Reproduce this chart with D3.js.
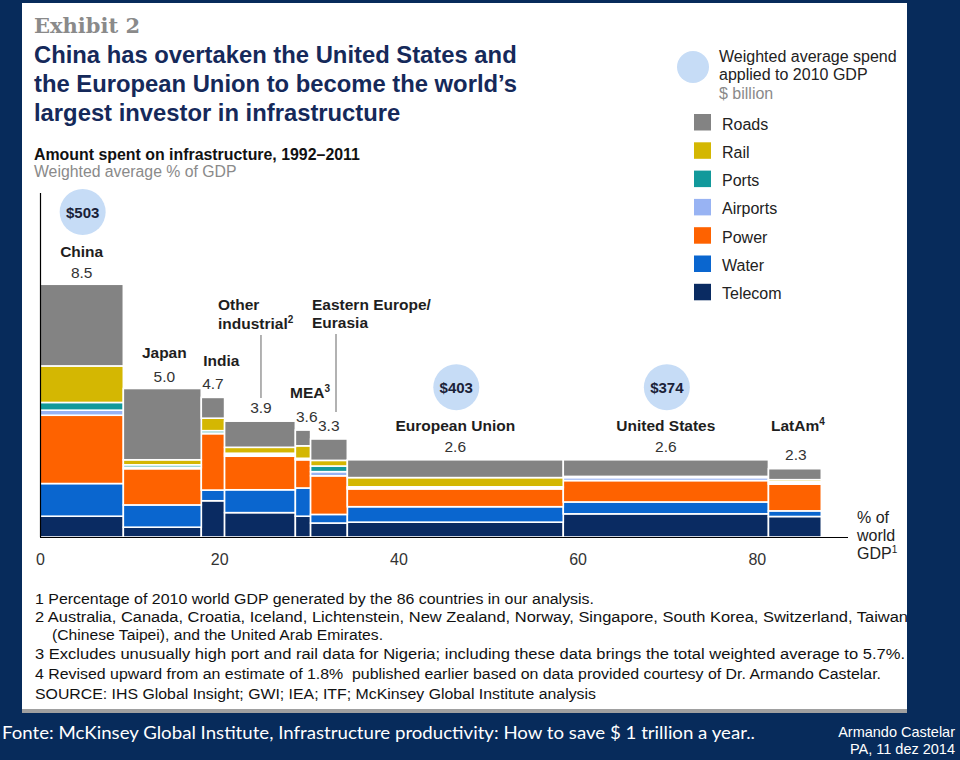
<!DOCTYPE html>
<html><head><meta charset="utf-8">
<script src="https://cdn.jsdelivr.net/npm/d3@7/dist/d3.min.js"></script>
<style>body{margin:0;background:#072b5b}svg{display:block}</style>
</head><body>
<script>
// ---- data ----
const regions = ["China","Japan","India","Other industrial","MEA","Eastern Europe/Eurasia","European Union","United States","LatAm"];
const gdpShare = [9.3, 8.7, 2.6, 7.9, 1.7, 4.1, 24.1, 22.9, 5.9];
const totals = [8.5, 5.0, 4.7, 3.9, 3.6, 3.3, 2.6, 2.6, 2.3];
const roads    = [2.75, 2.4, 0.7, 0.88, 0.53, 0.72, 0.6, 0.56, 0.37];
const rail     = [1.23, 0.17, 0.42, 0.2, 0.42, 0.19, 0.31, 0.02, 0.07];
const ports    = [0.26, 0.08, 0.08, 0.05, 0.03, 0.19, 0.03, 0.02, 0.04];
const airports = [0.17, 0.05, 0.02, 0.05, 0.02, 0.14, 0.04, 0.1, 0.04];
const power    = [2.3, 1.22, 1.9, 1.13, 0.95, 1.3, 0.6, 0.72, 0.9];
const water    = [1.1, 0.75, 0.36, 0.77, 0.95, 0.29, 0.52, 0.4, 0.19];
const telecom  = [0.7, 0.33, 1.22, 0.82, 0.7, 0.47, 0.5, 0.78, 0.69];
const spend = [503, null, null, null, null, null, 403, 374, null];
const sectors = ["Roads","Rail","Ports","Airports","Power","Water","Telecom"];
const xTicks = [0, 20, 40, 60, 80];
const footnotes = [
  "1  Percentage of 2010 world GDP generated by the 86 countries in our analysis.",
  "2  Australia, Canada, Croatia, Iceland, Lichtenstein, New Zealand, Norway, Singapore, South Korea, Switzerland, Taiwan",
  "(Chinese Taipei), and the United Arab Emirates.",
  "3  Excludes unusually high port and rail data for Nigeria; including these data brings the total weighted average to 5.7%.",
  "4  Revised upward from an estimate of 1.8%\u00a0 published earlier based on data provided courtesy of Dr. Armando Castelar.",
  "SOURCE: IHS Global Insight; GWI; IEA; ITF; McKinsey Global Institute analysis"
];

// ---- styles/layout ----
const colors = {Roads:"#838383",Rail:"#d4b702",Ports:"#12999b",Airports:"#98b3f3",Power:"#fe6200",Water:"#0a66cf",Telecom:"#0a2b62"};
const SANS = "'Liberation Sans', Arial, sans-serif";
const NARROW = "'Liberation Sans Narrow', 'Liberation Sans', Arial, sans-serif";

const svg = d3.select("body").append("svg").attr("width",960).attr("height",760);
svg.append("rect").attr("width",960).attr("height",760).attr("fill","#072b5b");
svg.append("rect").attr("x",22).attr("y",3).attr("width",885).attr("height",708).attr("fill","#fff");
svg.append("rect").attr("x",22).attr("y",709).attr("width",885).attr("height",4).attr("fill","#a0a0a0");

// titles
svg.append("text").attr("x",34).attr("y",33).text("Exhibit 2")
  .attr("font-family","'DejaVu Serif', 'Liberation Serif', serif").attr("font-weight","bold").attr("font-size",21).attr("fill","#8a8a8a");
["China has overtaken the United States and","the European Union to become the world\u2019s","largest investor in infrastructure"].forEach((t,i)=>{
  svg.append("text").attr("x",34).attr("y",63+i*29).text(t)
    .attr("font-family",SANS).attr("font-weight","bold").attr("font-size",23.8).attr("fill","#15295a");
});
svg.append("text").attr("x",34).attr("y",160).text("Amount spent on infrastructure, 1992\u20132011")
  .attr("font-family",SANS).attr("font-weight","bold").attr("font-size",15.9).attr("fill","#111");
svg.append("text").attr("x",34).attr("y",177).text("Weighted average % of GDP")
  .attr("font-family",SANS).attr("font-size",15.8).attr("fill","#8a8a8a");

// legend
svg.append("circle").attr("cx",693).attr("cy",67).attr("r",16).attr("fill","#c6dcf6");
[["Weighted average spend","#222",62],["applied to 2010 GDP","#222",80],["$ billion","#8a8a8a",99]].forEach(d=>{
  svg.append("text").attr("x",719).attr("y",d[2]).text(d[0]).attr("font-family",SANS).attr("font-size",16).attr("fill",d[1]);
});
const leg = svg.append("g");
sectors.forEach((s,i)=>{
  const y0 = 114 + i*28.3;
  leg.append("rect").attr("x",694).attr("y",y0).attr("width",17).attr("height",16.5).attr("fill",colors[s]);
  leg.append("text").attr("x",722).attr("y",y0+15.5).text(s).attr("font-family",SANS).attr("font-size",16).attr("fill","#222");
});

// scales
const x = d3.scaleLinear().domain([0,100]).range([40,936]);
const y = d3.scaleLinear().domain([0,10]).range([537,240]);

// build table
const cum = d3.cumsum(gdpShare);
const table = regions.map((r,i)=>({region:r, x0: cum[i]-gdpShare[i], x1: cum[i], total: totals[i], spend: spend[i],
  Roads:roads[i],Rail:rail[i],Ports:ports[i],Airports:airports[i],Power:power[i],Water:water[i],Telecom:telecom[i]}));
const stackKeys = ["Telecom","Water","Power","Airports","Ports","Rail","Roads"];
const series = d3.stack().keys(stackKeys)(table);

const bars = svg.append("g");
series.forEach(s=>{
  bars.selectAll(null).data(s).enter().append("rect")
    .attr("x",d=>x(d.data.x0)).attr("width",d=>x(d.data.x1)-x(d.data.x0))
    .attr("y",d=>y(d[1])).attr("height",d=>Math.max(0,y(d[0])-y(d[1])))
    .attr("fill",colors[s.key]).attr("stroke","#fff").attr("stroke-width",1.6);
});

// axes
svg.append("line").attr("x1",40.5).attr("x2",40.5).attr("y1",193).attr("y2",537).attr("stroke","#000").attr("stroke-width",1.2);
svg.append("line").attr("x1",40).attr("x2",848).attr("y1",537.5).attr("y2",537.5).attr("stroke","#000").attr("stroke-width",1.2);
const ax = svg.append("g").attr("transform","translate(0,537)")
  .call(d3.axisBottom(x).tickValues(xTicks).tickSize(0).tickPadding(17).tickFormat(d3.format("d")));
ax.select(".domain").remove();
ax.selectAll("text").attr("font-family",NARROW).attr("font-size",16).attr("fill","#333");
[["% of",523],["world",541],["GDP",559]].forEach((d,i)=>{
  const t = svg.append("text").attr("x",857).attr("y",d[1]).attr("font-family",SANS).attr("font-size",16).attr("fill","#222").text(d[0]);
  if(i===2) t.append("tspan").attr("dy",-6).attr("font-size",10).text("1");
});

// labels
const lab = svg.append("g").attr("font-family",SANS).attr("font-size",15.5);
function name(xp, yp, parts, anchor){
  const t = lab.append("text").attr("x",xp).attr("y",yp).attr("text-anchor",anchor||"middle").attr("font-weight","bold").attr("fill","#1e1e1e");
  t.append("tspan").text(parts[0]);
  if(parts[1]) t.append("tspan").attr("dy",-6).attr("font-size",10).text(parts[1]);
  return t;
}
function val(xp, yp, v, anchor){
  lab.append("text").attr("x",xp).attr("y",yp).attr("text-anchor",anchor||"middle").attr("fill","#333").text(d3.format(".1f")(v));
}
const cx = i => x((table[i].x0+table[i].x1)/2);
const topY = i => y(totals[i]);
// China
name(cx(0), topY(0)-28, ["China"]); val(cx(0), topY(0)-7, totals[0]);
// Japan
name(cx(1)+2, topY(1)-31, ["Japan"]); val(cx(1)+2, topY(1)-7, totals[1]);
// India
name(x(table[2].x0)+2, topY(2)-31, ["India"], "start"); val(cx(2), topY(2)-8, totals[2]);
// Other industrial
name(218, 310, ["Other"], "start"); name(218, 329, ["industrial","2"], "start");
svg.append("line").attr("x1",cx(3)+1).attr("x2",cx(3)+1).attr("y1",335).attr("y2",398).attr("stroke","#999").attr("stroke-width",1.5);
val(cx(3)+1, topY(3)-8, totals[3]);
// MEA
name(290, 398, ["MEA","3"], "start"); val(296, topY(4)-8, totals[4], "start");
// Eastern Europe
name(312, 310, ["Eastern Europe/"], "start"); name(312, 328, ["Eurasia"], "start");
svg.append("line").attr("x1",336).attr("x2",336).attr("y1",334).attr("y2",412).attr("stroke","#999").attr("stroke-width",1.5);
val(318, topY(5)-8, totals[5], "start");
// EU, US
name(cx(6), topY(6)-29, ["European Union"]); val(cx(6), topY(6)-8, totals[6]);
name(cx(7), topY(7)-29, ["United States"]); val(cx(7), topY(7)-8, totals[7]);
// LatAm
name(cx(8)+3, 431, ["LatAm","4"]); val(cx(8)+1, topY(8)-9, totals[8]);

// spend bubbles
table.forEach((d,i)=>{
  if(d.spend==null) return;
  const by = topY(i)-72.5;
  svg.append("circle").attr("cx",cx(i)+1).attr("cy",by).attr("r",23).attr("fill","#c6dcf6");
  svg.append("text").attr("x",cx(i)+1).attr("y",by+5.5).attr("text-anchor","middle")
    .attr("font-family",SANS).attr("font-weight","bold").attr("font-size",15).attr("fill","#1a2238").text("$"+d.spend);
});

// footnotes
const fnY = [604,622,640,659,679,699];
const fnX = [35,35,52,35,35,35];
const fnW = [559,873,331,870,846,561];
footnotes.forEach((t,i)=>{
  svg.append("text").attr("x",fnX[i]).attr("y",fnY[i]).text(t)
    .attr("font-family",NARROW).attr("font-size",15.5).attr("fill","#111")
    .attr("textLength",fnW[i]).attr("lengthAdjust","spacingAndGlyphs");
});

// slide footer
svg.append("text").attr("x",2).attr("y",739).text("Fonte: McKinsey Global Institute, Infrastructure productivity: How to save $ 1 trillion a year..")
  .attr("font-family","Lato, 'Open Sans', sans-serif").attr("font-size",17.5).attr("fill","#fff")
  .attr("textLength",753).attr("lengthAdjust","spacingAndGlyphs");
svg.append("text").attr("x",955).attr("y",737).attr("text-anchor","end").text("Armando Castelar")
  .attr("font-family",NARROW).attr("font-size",14.5).attr("fill","#fff");
svg.append("text").attr("x",955).attr("y",754).attr("text-anchor","end").text("PA, 11 dez 2014")
  .attr("font-family",NARROW).attr("font-size",14.5).attr("fill","#fff");
</script>
</body></html>
